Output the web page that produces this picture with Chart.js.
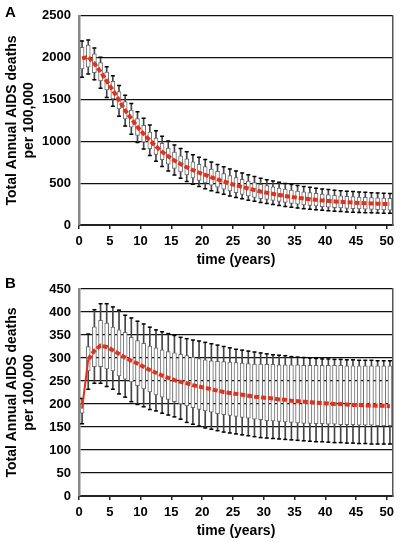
<!DOCTYPE html>
<html>
<head>
<meta charset="utf-8">
<script src="https://cdn.jsdelivr.net/npm/chart.js@4.4.1/dist/chart.umd.min.js"></script>
<style>
  body { margin: 0; background: #fff; }
  .panel { position: absolute; left: 0; width: 400px; height: 271px; }
  .panel canvas { display: block; }
  .tag { position: absolute; font: bold 15px "Liberation Sans", Arial, sans-serif; color: #000; }
</style>
</head>
<body>
<div class="panel" style="top:0"><canvas id="chartA" width="400" height="271"></canvas></div>
<div class="panel" style="top:271px"><canvas id="chartB" width="400" height="271"></canvas></div>
<div class="tag" style="left:5px;top:3px">A</div>
<div class="tag" style="left:5px;top:274px">B</div>
<script>
const years = [0,1,2,3,4,5,6,7,8,9,10,11,12,13,14,15,16,17,18,19,20,21,22,23,24,25,
  26,27,28,29,30,31,32,33,34,35,36,37,38,39,40,41,42,43,44,45,46,47,48,49,50];
const xTicks = [0,5,10,15,20,25,30,35,40,45,50];

// panel A
const aMax = [2200,2210,2115,2005,1890,1785,1668,1550,1452,1354,1275,1195,1125,1060,1005,955,913,875,840,810,
  783,752,724,696,670,645,622,600,579,559,541,525,510,496,483,471,460,450,440,431,
  423,416,410,404,399,394,390,386,383,379,377];
const aQ3 = [2123,2150,2045,1940,1828,1716,1595,1474,1373,1272,1191,1111,1040,975,920,870,828,790,755,725,
  698,668,642,615,591,567,546,525,506,487,471,456,442,429,417,406,396,387,378,370,
  363,356,350,344,340,335,331,328,324,321,318];
const aMed = [1990,2010,1930,1830,1720,1610,1490,1370,1270,1170,1090,1010,940,875,820,770,728,690,655,625,
  598,570,545,520,497,475,455,436,418,401,386,372,359,347,336,326,317,309,301,294,
  288,282,277,272,268,264,261,258,255,252,250];
const aQ1 = [1865,1885,1820,1722,1614,1506,1388,1269,1170,1071,992,913,844,780,726,676,635,597,563,533,
  503,476,452,428,406,385,366,348,331,315,306,293,281,270,259,250,241,234,227,220,
  213,208,203,199,195,191,188,185,183,180,178];
const aMin = [1765,1805,1735,1635,1525,1418,1300,1182,1084,986,908,830,762,699,646,598,558,521,487,459,
  433,409,388,367,348,329,313,297,283,270,258,245,233,222,212,203,195,188,181,175,
  170,165,160,156,153,150,147,145,143,140,139];

// panel B
const bMax = [212,352,405,418,418,411,404,393,387,380,374,367,361,357,353,349,345,342,339,337,
  334,331,328,325,322,319,317,315,313,311,309,307,306,305,303,302,301,300,299,298,
  298,297,297,296,296,295,295,295,294,294,294];
const bQ3 = [200,325,368,382,376,367,361,356,345,338,332,326,322,318,314,311,308,305,302,299,
  296,294,293,292,291,290,289,288,287,287,286,286,285,285,285,285,284,284,284,284,
  284,284,284,283,283,283,283,283,283,283,283];
const bMed = [190,297,316,327,324,317,309,301,294,288,281,274,268,262,257,252,248,245,241,238,
  235,232,229,226,224,222,220,218,216,215,213,212,210,209,207,206,205,204,203,202,
  201,200,200,199,198,198,197,197,196,196,195];
const bQ1 = [180,272,281,281,276,272,261,254,248,240,233,226,220,215,210,205,200,196,192,188,
  185,182,179,177,175,173,171,169,167,166,164,163,162,161,160,159,158,158,157,157,
  156,156,155,155,155,154,154,154,153,153,153];
const bMin = [157,232,245,245,238,232,222,215,205,199,194,188,185,180,176,172,167,160,156,152,
  148,145,142,139,137,135,133,131,129,127,126,125,124,123,122,121,120,119,118,118,
  117,116,116,115,115,114,114,113,113,113,113];

Chart.defaults.font.family = '"Liberation Sans", Arial, sans-serif';
Chart.defaults.font.weight = 'bold';
Chart.defaults.color = '#000';

const makeChart = (id, s, yMax, yStep, padTop, thinStart) => {
  const at = (arr) => years.map((t, i) => ({ x: t + 0.5, y: arr[i] }));
  const range = (lo, hi) => years.map((t, i) => ({ x: t + 0.5, y: [lo[i], hi[i]] }));

  const medLine = {
    type: 'line',
    data: at(s.med),
    borderColor: '#e0321c',
    borderWidth: 4,
    borderDash: [5, 2],
    pointRadius: 0,
    order: 1
  };
  if (thinStart) {
    medLine.segment = {
      borderDash: c => c.p0DataIndex === 0 ? [] : undefined,
      borderWidth: c => c.p0DataIndex === 0 ? 2 : undefined
    };
  }

  return new Chart(document.getElementById(id), {
    type: 'bar',
    data: {
      datasets: [
        { type: 'bar', data: range(s.min, s.max), backgroundColor: '#444', barThickness: 1,
          grouped: false, order: 4 },
        { type: 'bar', data: range(s.q1, s.q3), backgroundColor: '#fff', borderColor: '#6a6a6a',
          borderWidth: 1, borderSkipped: false, barThickness: 4, grouped: false, order: 3 },
        { type: 'scatter', data: at(s.max).concat(at(s.min)), pointStyle: 'line', pointRadius: 2,
          borderColor: '#000', borderWidth: 1.5, order: 2 },
        medLine
      ]
    },
    options: {
      responsive: false,
      animation: false,
      layout: { padding: { top: padTop, right: 7, bottom: 2, left: 0 } },
      plugins: { legend: { display: false }, tooltip: { enabled: false } },
      scales: {
        x: {
          type: 'linear',
          offset: false,
          min: 0,
          max: 51,
          afterBuildTicks: (scale) => { scale.ticks = xTicks.map(v => ({ value: v })); },
          afterFit: (scale) => { scale.height = 44; },
          ticks: { font: { size: 13, weight: 'bold' }, padding: 5, maxRotation: 0 },
          grid: { offset: false, drawOnChartArea: false, drawTicks: true, tickLength: 4, color: '#222', lineWidth: 1.5 },
          border: { color: '#222', width: 2 },
          title: { display: true, text: 'time (years)', font: { size: 14, weight: 'bold' },
                   padding: { top: 0, bottom: 0 } }
        },
        y: {
          min: 0,
          max: yMax,
          afterFit: (scale) => { scale.width = 79; },
          ticks: { stepSize: yStep, font: { size: 13, weight: 'bold' }, padding: 8,
                   callback: (v) => String(v) },
          grid: { color: '#111', lineWidth: 1.3, drawTicks: false },
          border: { color: '#888', width: 2.5 },
          title: { display: true, text: ['Total Annual AIDS deaths', 'per 100,000'],
                   font: { size: 14, weight: 'bold' }, padding: { top: 4, bottom: 0 } }
        },
        r: {
          position: 'right',
          min: 0,
          max: 1,
          afterFit: (scale) => { scale.width = 0; },
          ticks: { display: false },
          grid: { display: false, drawTicks: false },
          border: { display: true, color: '#555', width: 1.5 }
        }
      }
    }
  });
};

makeChart('chartA', { max: aMax, q3: aQ3, med: aMed, q1: aQ1, min: aMin }, 2500, 500, 15, false);
makeChart('chartB', { max: bMax, q3: bQ3, med: bMed, q1: bQ1, min: bMin }, 450, 50, 18, true);
</script>
</body>
</html>
